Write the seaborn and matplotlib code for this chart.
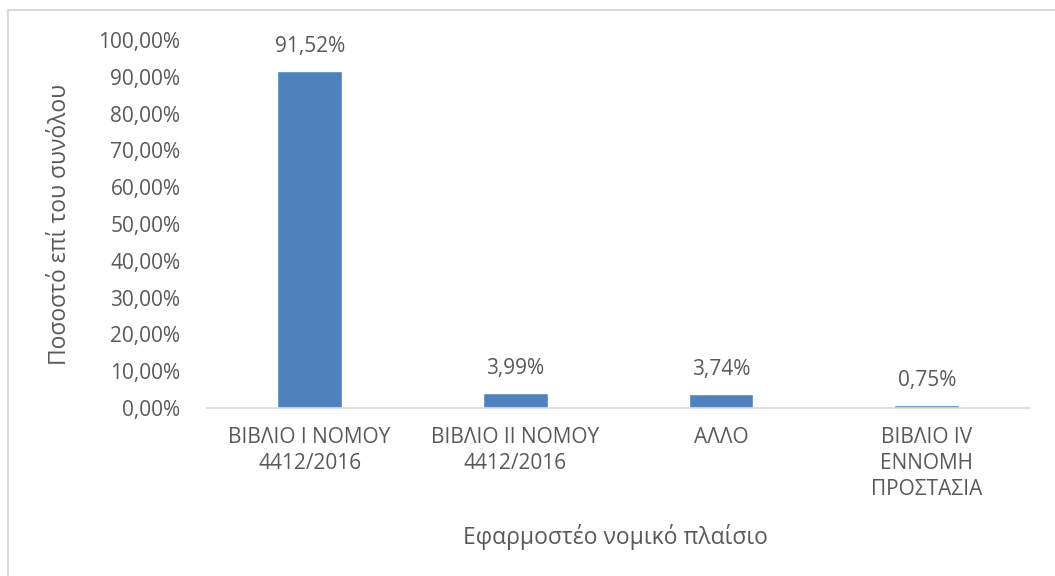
import matplotlib
matplotlib.use("Agg")
import matplotlib.pyplot as plt
import matplotlib.ticker as mticker
from matplotlib.patches import Rectangle
import seaborn as sns
import pandas as pd

# Δεδομένα
categories = ["ΒΙΒΛΙΟ Ι ΝΟΜΟΥ\n4412/2016", "ΒΙΒΛΙΟ ΙΙ ΝΟΜΟΥ\n4412/2016", "ΑΛΛΟ", "ΒΙΒΛΙΟ IV\nΕΝΝΟΜΗ\nΠΡΟΣΤΑΣΙΑ"]
values = [91.52, 3.99, 3.74, 0.75]
value_labels = ["91,52%", "3,99%", "3,74%", "0,75%"]

df = pd.DataFrame({"cat": categories, "val": values})

sns.set_theme(style="white")
plt.rcParams["font.family"] = ["Open Sans", "DejaVu Sans"]
grey = "#595959"

fig = plt.figure(figsize=(10.55, 5.76), dpi=100)
ax = fig.add_axes([0.196, 0.2917, 0.78, 0.639])

sns.barplot(data=df, x="cat", y="val", color="#4F81BD", saturation=1, width=0.315, ax=ax)

for i, (v, lab) in enumerate(zip(values, value_labels)):
    ax.annotate(lab, (i, v), xytext=(0, 10), textcoords="offset points",
                ha="center", va="bottom", fontsize=15, color=grey)

ax.set_ylim(0, 100)
ax.set_xlim(-0.5, 3.5)
ax.yaxis.set_major_locator(mticker.MultipleLocator(10))
ax.yaxis.set_major_formatter(mticker.FuncFormatter(lambda y, _: f"{y:.2f}%".replace(".", ",")))
ax.tick_params(axis="both", labelsize=15, colors=grey, length=0)
ax.tick_params(axis="y", pad=19)
ax.tick_params(axis="x", pad=14)
for t in ax.get_xticklabels():
    t.set_linespacing(1.3)

for s in ["top", "right", "left"]:
    ax.spines[s].set_visible(False)
ax.spines["bottom"].set_color("#D9D9D9")
ax.spines["bottom"].set_linewidth(1.2)

ax.set_xlabel("Εφαρμοστέο νομικό πλαίσιο", fontsize=16.5, color=grey, va="center")
ax.set_ylabel("Ποσοστό επί του συνόλου", fontsize=16.5, color=grey, va="center")
ax.xaxis.set_label_coords(0.497, -0.35)
ax.yaxis.set_label_coords(-0.178, 0.5)

# Πλαίσιο γραφήματος (κομμένο δεξιά και κάτω)
fig.patches.append(Rectangle((0.008, -0.05), 1.05, 1.032, transform=fig.transFigure,
                             fill=False, edgecolor="#D9D9D9", linewidth=1.5))

fig.savefig("out.png", dpi=100)
